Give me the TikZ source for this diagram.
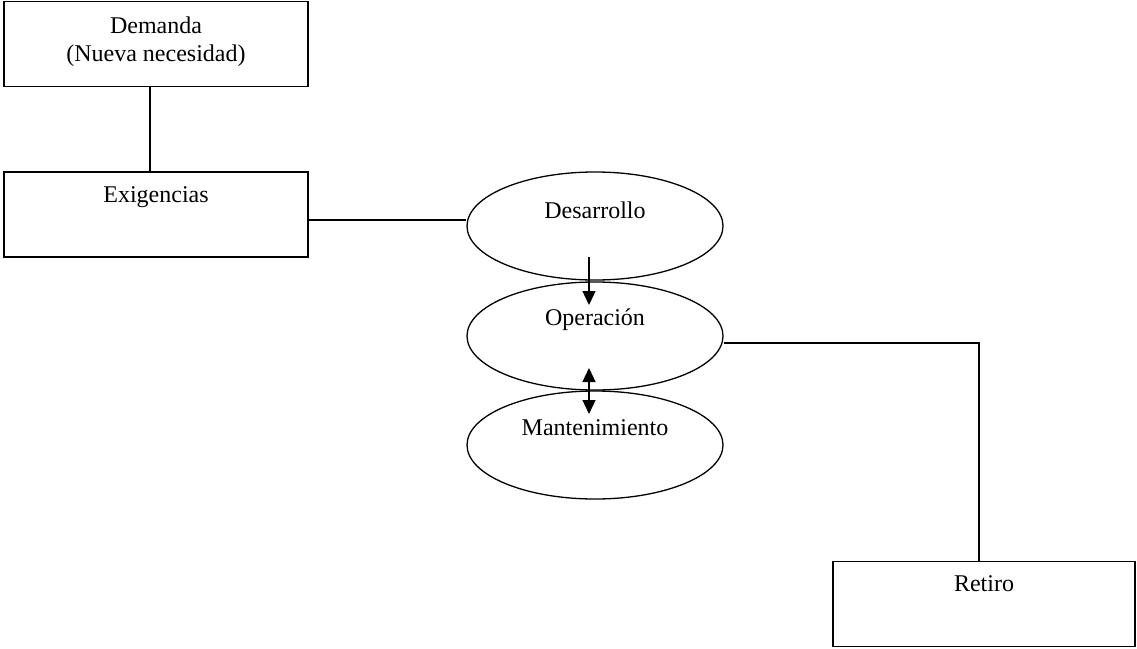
\documentclass[tikz,border=0pt]{standalone}
\usepackage{fontspec}
\setmainfont{Liberation Serif}
\usetikzlibrary{shapes.geometric,arrows.meta}
\begin{document}
\begin{tikzpicture}[x=1pt,y=-1pt,
  every node/.style={font=\fontsize{24}{28}\selectfont},
  box/.style={draw,line width=1.3pt,rectangle,inner sep=0pt,minimum width=304pt,minimum height=85pt},
  stage/.style={draw,line width=1.3pt,ellipse,inner sep=0pt,minimum width=256pt,minimum height=108pt},
  link/.style={line width=1.3pt},
  flow/.style={line width=1.3pt,-{Triangle[length=14pt,width=13pt]}},
  twoway/.style={line width=1.3pt,{Triangle[length=14pt,width=13pt]}-{Triangle[length=14pt,width=13pt]}}]
\useasboundingbox (0,0) rectangle (1137,648);

% boxes
\node[box,label={[anchor=center,yshift=2.5pt,align=center]center:Demanda\\(Nueva necesidad)}] (dem) at (156,44) {};
\node[box,label={[anchor=base,yshift=-31pt]north:Exigencias}] (exi) at (156,214.5) {};
\node[box,minimum width=302pt,label={[anchor=base,yshift=-31pt]north:Retiro}] (ret) at (984,604) {};

% life-cycle stages
\node[stage,label={[anchor=center,yshift=16pt]center:Desarrollo}] (des) at (595,226) {};
\node[stage,label={[anchor=center,yshift=16pt]center:Operación}] (ope) at (595,336) {};
\node[stage,label={[anchor=center,yshift=17pt]center:Mantenimiento}] (man) at (595,445) {};

% connectors
\draw[link] ([xshift=-6pt]dem.south) -- ([xshift=-6pt]exi.north);
\draw[link] ([yshift=-5.5pt]exi.east) -- ([yshift=-5.5pt]exi.east -| des.west);
\coordinate (turn) at (979,343);
\draw[link] (ope.east |- turn) -- (turn) -- (turn |- ret.north);

\coordinate (d1) at (589,257);
\coordinate (d2) at (589,305);
\draw[flow] (d1) -- (d2);
\coordinate (m1) at (589,368);
\coordinate (m2) at (589,414);
\draw[twoway] (m1) -- (m2);
\end{tikzpicture}
\end{document}
